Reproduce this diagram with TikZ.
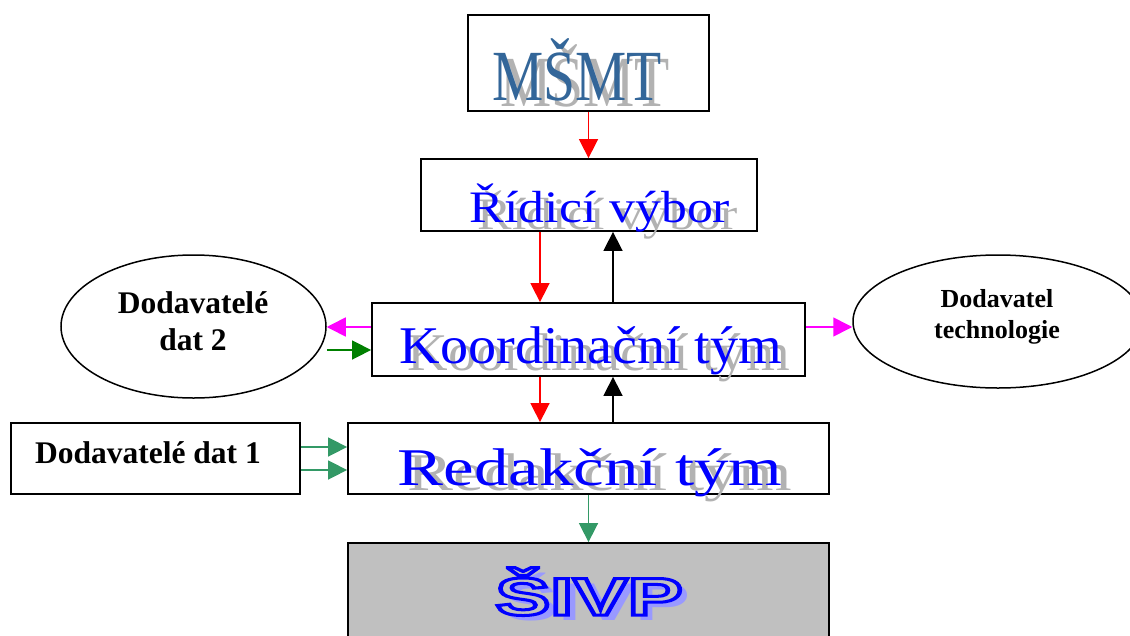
\documentclass[tikz,border=0pt]{standalone}
\usepackage{fontspec}
\usepackage{graphicx}
\setmainfont{Liberation Serif}
\newfontfamily\sivpfont{Liberation Sans}
\usetikzlibrary{shapes.geometric,arrows.meta}
\definecolor{msmtblue}{RGB}{51,102,153}
\definecolor{shadowgray}{RGB}{178,178,178}
\definecolor{seagr}{RGB}{51,153,102}
\definecolor{dkgreen}{RGB}{0,128,0}
\definecolor{sivpgray}{RGB}{192,192,192}
\definecolor{sivpshadow}{RGB}{153,153,255}
\definecolor{pureblue}{RGB}{0,0,255}
\definecolor{purered}{RGB}{255,0,0}
\definecolor{puremagenta}{RGB}{255,0,255}
\newcommand\outlinedtext[1]{\special{pdf:literal 2 Tr 3 w 0.753 g}#1\special{pdf:literal 0 Tr}}
\begin{document}
\begin{tikzpicture}[x=1pt,y=-1pt,
  boxnode/.style={draw=black,line width=1.8pt,rectangle,inner sep=0pt},
  ovalnode/.style={draw=black,line width=1.5pt,ellipse,inner sep=0pt},
  conn/.style={line width=1.6pt,-{Triangle[length=19pt,width=19pt]}},
  lbl/.style={inner sep=0pt,anchor=base},
  smalllbl/.style={lbl,font=\bfseries\fontsize{31.5}{37}\selectfont},
  techlbl/.style={lbl,font=\bfseries\fontsize{26}{31}\selectfont}]
\useasboundingbox (0,0) rectangle (1130,635);
% boxes
\node[boxnode,minimum width=241pt,minimum height=96pt] (msmt) at (588.5,63) {};
\node[boxnode,minimum width=336pt,minimum height=72pt] (ridici) at (589,195) {};
\node[boxnode,minimum width=433pt,minimum height=73pt] (koord) at (588.5,339.5) {};
\node[boxnode,minimum width=481pt,minimum height=71pt] (redak) at (588.5,458.5) {};
\node[boxnode,minimum width=289pt,minimum height=71pt] (dod1) at (155.5,458.5) {};
\node[boxnode,fill=sivpgray,minimum width=481pt,minimum height=107pt] (sivp) at (588.5,596.5) {};
\node[ovalnode,minimum width=265pt,minimum height=143pt] (dod2) at (193.5,326.5) {};
\node[ovalnode,minimum width=290pt,minimum height=133pt] (tech) at (998,321.5) {};
% texts
\node[lbl,text=shadowgray,font=\fontsize{72}{80}\selectfont] (msmtsh) at (585,106) {\scalebox{0.8}[1]{MŠMT}};
\node[lbl,text=msmtblue,font=\fontsize{72}{80}\selectfont] (msmtt) at (577,100) {\scalebox{0.8}[1]{MŠMT}};
\node[lbl,text=shadowgray,font=\fontsize{45}{50}\selectfont] (ridicish) at (608,229) {\scalebox{1.15}[1]{Řídicí výbor}};
\node[lbl,text=pureblue,font=\fontsize{45}{50}\selectfont] (ridicit) at (600,222) {\scalebox{1.15}[1]{Řídicí výbor}};
\node[lbl,text=shadowgray,font=\fontsize{53}{60}\selectfont] (koordsh) at (599,370) {\scalebox{1.06}[1]{Koordinační tým}};
\node[lbl,text=pureblue,font=\fontsize{53}{60}\selectfont] (koordt) at (591,363) {\scalebox{1.06}[1]{Koordinační tým}};
\node[lbl,text=shadowgray,font=\fontsize{53}{60}\selectfont] (redaksh) at (600,490) {\scalebox{1.3}[1]{Redakční tým}};
\node[lbl,text=pureblue,font=\fontsize{53}{60}\selectfont] (redakt) at (590,485) {\scalebox{1.3}[1]{Redakční tým}};
\node[lbl,text=sivpshadow,font=\sivpfont\bfseries\fontsize{53}{60}\selectfont] (sivpsh) at (597,620) {\scalebox{1.55}[1]{ŠIVP}};
\node[lbl,text=pureblue,font=\sivpfont\bfseries\fontsize{53}{60}\selectfont] (sivpt) at (589,615) {\outlinedtext{\scalebox{1.55}[1]{ŠIVP}}};
\node[smalllbl] (dod1t) at (148,463) {Dodavatelé dat 1};
\node[smalllbl] (dod2a) at (193,313) {Dodavatelé};
\node[smalllbl] (dod2b) at (193,350) {dat 2};
\node[techlbl] (techa) at (997,307) {Dodavatel};
\node[techlbl] (techb) at (997,338) {technologie};
% helper coordinates
\coordinate (xr) at (540,0);
\coordinate (xb) at (613,0);
\coordinate (ym) at (0,327);
\coordinate (yg) at (0,350);
\coordinate (ya) at (0,447);
\coordinate (yb) at (0,470);
% connectors
\draw[conn,purered] (msmt.south) -- (msmt.south |- ridici.north);
\draw[conn,purered] (ridici.south -| xr) -- (koord.north -| xr);
\draw[conn,black] (koord.north -| xb) -- (ridici.south -| xb);
\draw[conn,purered] (koord.south -| xr) -- (redak.north -| xr);
\draw[conn,black] (redak.north -| xb) -- (koord.south -| xb);
\draw[conn,puremagenta] (koord.east |- ym) -- (tech.west |- ym);
\draw[conn,puremagenta] (koord.west |- ym) -- (dod2.east |- ym);
\draw[conn,dkgreen] (dod2.east |- yg) -- (koord.west |- yg);
\draw[conn,seagr] (dod1.east |- ya) -- (redak.west |- ya);
\draw[conn,seagr] (dod1.east |- yb) -- (redak.west |- yb);
\draw[conn,seagr] (redak.south) -- (redak.south |- sivp.north);
\end{tikzpicture}
\end{document}
